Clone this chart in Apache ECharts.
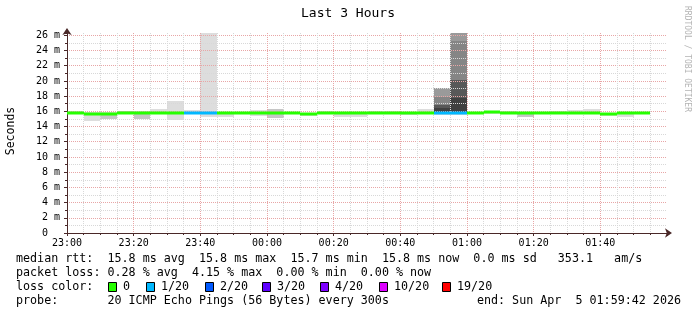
<!DOCTYPE html>
<html><head><meta charset="utf-8">
<script src="https://cdn.jsdelivr.net/npm/echarts@6/dist/echarts.min.js"></script>
<style>html,body{margin:0;padding:0;background:#fff}#c{width:697px;height:315px}</style>
</head><body><div id="c"></div>
<script>
// ---------- data ----------
const binTimes = ['23:00','23:05','23:10','23:15','23:20','23:25','23:30','23:35','23:40','23:45',
  '23:50','23:55','00:00','00:05','00:10','00:15','00:20','00:25','00:30','00:35',
  '00:40','00:45','00:50','00:55','01:00','01:05','01:10','01:15','01:20','01:25',
  '01:30','01:35','01:40','01:45','01:50'];
const medianRtt = [15.8,15.65,15.7,15.8,15.8,15.8,15.8,15.8,15.8,15.8,
  15.8,15.8,15.8,15.8,15.6,15.8,15.8,15.8,15.8,15.8,
  15.8,15.8,15.8,15.8,15.8,15.85,15.8,15.8,15.8,15.8,
  15.8,15.8,15.6,15.75,15.8];
const lossCount = [0,0,0,0,0,0,0,1,1,0, 0,0,0,0,0,0,0,0,0,0, 0,0,1,1,0,0,0,0,0,0, 0,0,0,0,0];
const smokeOuterLo = [15.6,14.7,14.95,15.65,14.97,15.65,14.8,15.6,15.3,15.3,
  15.65,15.35,15.1,15.65,15.45,15.6,15.3,15.2,15.65,15.65,
  15.5,15.65,15.55,15.55,15.6,15.7,15.7,15.2,15.65,15.7,
  15.7,15.7,15.45,15.2,15.65];
const smokeOuterHi = [16.1,15.9,15.85,16.05,16.0,16.3,17.35,16.15,29,15.95,
  15.95,16.2,16.3,15.95,15.8,16.1,15.95,15.9,16.1,16.1,
  15.9,16.3,19.05,29,15.9,16.0,16.05,15.9,15.95,16.1,
  16.2,16.3,15.75,15.9,15.95];
const midBins = ['23:10','23:15','23:20','00:00','01:15'];
const midLo = [15.05,15.75,15.05,15.15,15.25];
const midHi = [15.8,16.0,15.9,16.25,15.85];
const darkBins = ['00:50','00:55'];
const darkALo = [15.7,15.7],  darkAHi = [19.05,29];
const darkBLo = [15.7,15.7],  darkBHi = [17.9,25.2];
const darkCLo = [15.75,15.75], darkCHi = [16.8,20.1];
const darkDLo = [15.75,15.75], darkDHi = [16.4,17.7];
const xTickLabels = ['23:00','23:20','23:40','00:00','00:20','00:40','01:00','01:20','01:40'];
const lossLegendLabels = ['0','1/20','2/20','3/20','4/20','10/20','19/20'];
const lossLegendThresholds = [0,1,2,3,4,10,19];
const lossLegendColors = ['#26ff00','#00b8ff','#0059ff','#5e00ff','#7e00ff','#dd00ff','#ff0000'];
const titleText = 'Last 3 Hours';
const unitText = 'Seconds';
const rowRtt = 'median rtt:  15.8 ms avg  15.8 ms max  15.7 ms min  15.8 ms now  0.0 ms sd   353.1   am/s';
const rowLoss = 'packet loss: 0.28 % avg  4.15 % max  0.00 % min  0.00 % now';
const rowLossColor = 'loss color:';
const rowProbe = 'probe:       20 ICMP Echo Pings (56 Bytes) every 300s';
const rowEnd = 'end: Sun Apr  5 01:59:42 2026';
const watermark = 'RRDTOOL / TOBI OETIKER';

// ---------- helpers ----------
const BIN = 5;
function toMin(t){ const [h,m]=t.split(':').map(Number); return ((h*60+m) - 23*60 + 1440) % 1440; }
const binStart = binTimes.map(toMin);
const MONO = 'DejaVu Sans Mono';

function rectRender(color){
  return function(params, api){
    const a = api.coord([api.value(0), api.value(3)]);
    const b = api.coord([api.value(1), api.value(2)]);
    const cs = params.coordSys;
    const y1 = Math.round(Math.max(a[1], cs.y));
    const y2 = Math.round(Math.min(b[1], cs.y + cs.height));
    const x1 = Math.round(a[0]), x2 = Math.round(b[0]);
    return {type:'rect', shape:{x:x1, y:y1, width:x2-x1, height:Math.max(1, y2-y1)}, style:{fill:color}};
  };
}
function bandSeries(times, lo, hi, color, z){
  const data = times.map((t,i)=>{ const s = toMin(t); return [s, s+BIN, lo[i], hi[i]]; });
  return {type:'custom', silent:true, z:z, data:data, encode:{x:[0,1], y:[2,3]}, renderItem:rectRender(color), animation:false};
}
function lossColor(n){
  let c = lossLegendColors[0];
  lossLegendThresholds.forEach((t,i)=>{ if (n >= t) c = lossLegendColors[i]; });
  return c;
}
const medianData = binTimes.map((t,i)=>[binStart[i], binStart[i]+BIN, medianRtt[i], lossCount[i]]);

const chart = echarts.init(document.getElementById('c'), null, {renderer:'canvas'});
const AXC = '#4a2828';
const MGRID = '#e8a6a6';
const GRID = '#d8d8d8';
const legendText = (x, y, text, align) => ({type:'text', x:x, y:y, silent:true,
  style:{text:text, font:'11.7px "' + MONO + '"', fill:'#000', align:align||'left', verticalAlign:'middle'}});

const graphics = [
  {type:'text', x:348, y:14, silent:true, style:{text:titleText, font:'13px "'+MONO+'"', fill:'#000', align:'center', verticalAlign:'middle'}},
  {type:'text', x:11, y:131, rotation:Math.PI/2, silent:true, style:{text:unitText, font:'11.5px "'+MONO+'"', fill:'#000', align:'center', verticalAlign:'middle'}},
  {type:'text', x:687, y:59, rotation:-Math.PI/2, silent:true, style:{text:watermark, font:'8px "'+MONO+'"', fill:'#b4b4b4', align:'center', verticalAlign:'middle'}},
  legendText(16, 259, rowRtt),
  legendText(16, 273, rowLoss),
  legendText(16, 287, rowLossColor),
  legendText(16, 301, rowProbe),
  legendText(681, 301, rowEnd, 'right')
];
const boxX = [108, 145.5, 204.5, 262, 320, 378.5, 442];
lossLegendLabels.forEach((lab,i)=>{
  graphics.push({type:'rect', silent:true, shape:{x:Math.round(boxX[i])+0.5, y:282.5, width:8, height:9},
    style:{fill:lossLegendColors[i], stroke:'#000', lineWidth:1}});
  graphics.push(legendText(Math.round(boxX[i])+15, 287, lab));
});

chart.setOption({
  animation:false,
  backgroundColor:'#ffffff',
  grid:{left:67, top:33, width:600, height:200, containLabel:false},
  xAxis:{
    type:'value', min:0, max:180, interval:20, z:2,
    axisLine:{show:true, onZero:false, lineStyle:{color:AXC, width:1}, symbol:['none','arrow'], symbolSize:[7,7], symbolOffset:[0,5]},
    axisTick:{show:true, length:3, lineStyle:{color:AXC}},
    minorTick:{show:true, splitNumber:4, length:2, lineStyle:{color:AXC}},
    axisLabel:{fontFamily:MONO, fontSize:10, color:'#000', margin:5, showMaxLabel:false,
      formatter:(v)=>{ const k = Math.round(v/20); return (Math.abs(v-k*20)<1e-6 && xTickLabels[k]) ? xTickLabels[k] : ''; }},
    splitLine:{show:true, showMinLine:false, showMaxLine:false, lineStyle:{color:MGRID, type:[1,1]}},
    minorSplitLine:{show:true, lineStyle:{color:GRID, type:[1,1]}}
  },
  yAxis:{
    type:'value', min:0, max:26.3, interval:2, z:2,
    axisLine:{show:true, onZero:false, lineStyle:{color:AXC, width:1}, symbol:['none','arrow'], symbolSize:[7,7], symbolOffset:[0,5]},
    axisTick:{show:true, length:3, lineStyle:{color:AXC}},
    minorTick:{show:true, splitNumber:2, length:2, lineStyle:{color:AXC}},
    axisLabel:{fontFamily:MONO, fontSize:10, color:'#000', margin:7, showMaxLabel:true,
      formatter:(v)=>{ if (Math.abs(v/2 - Math.round(v/2)) > 1e-6) return ''; return v===0 ? '0  ' : (Math.round(v) + ' m'); }},
    splitLine:{show:true, showMinLine:false, showMaxLine:false, lineStyle:{color:MGRID, type:[1,1]}},
    minorSplitLine:{show:true, lineStyle:{color:GRID, type:[1,1]}}
  },
  series:[
    bandSeries(binTimes, smokeOuterLo, smokeOuterHi, '#dddddd', 1),
    bandSeries(midBins, midLo, midHi, '#c6c6c6', 1),
    bandSeries(darkBins, darkALo, darkAHi, '#9a9a9a', 1),
    bandSeries(darkBins, darkBLo, darkBHi, '#858585', 1),
    bandSeries(darkBins, darkCLo, darkCHi, '#585858', 1),
    bandSeries(darkBins, darkDLo, darkDHi, '#404040', 1),
    {type:'custom', silent:true, z:3, data:medianData, encode:{x:[0,1], y:2}, animation:false,
      renderItem:(params, api)=>{
        const a = api.coord([api.value(0), api.value(2)]);
        const b = api.coord([api.value(1), api.value(2)]);
        const yc = Math.round(a[1]);
        return {type:'rect', shape:{x:Math.round(a[0]), y:yc-1.5, width:Math.round(b[0])-Math.round(a[0]), height:3},
          style:{fill:lossColor(api.value(3))}};
      }}
  ],
  graphic:graphics
});
</script></body></html>
